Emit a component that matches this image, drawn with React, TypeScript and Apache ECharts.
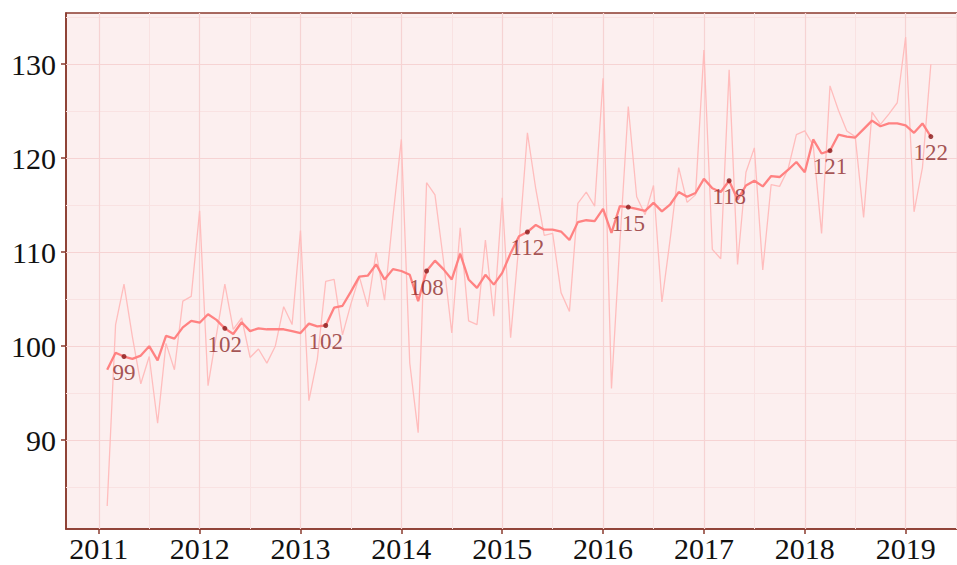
import React, { useEffect, useRef } from "react";
import * as echarts from "echarts";

// Monthly series, Feb 2011 .. Apr 2019
const START_YEAR = 2011;
const START_MONTH = 2;

const rawValues = [
  83.0, 102.3, 106.6, 101.0, 96.0, 98.9, 91.8, 100.3, 97.5, 104.8, 105.3, 114.4,
  95.8, 101.2, 106.6, 101.8, 103.0, 98.8, 99.7, 98.2, 100.0, 104.2, 102.3, 112.3,
  94.2, 98.6, 106.9, 107.1, 101.2, 104.5, 107.4, 104.2, 110.0, 104.9, 113.8, 122.0,
  98.2, 90.8, 117.4, 116.1, 109.2, 101.4, 112.6, 102.7, 102.3, 111.3, 103.2, 115.8,
  100.9, 111.0, 122.7, 116.7, 111.8, 112.0, 105.7, 103.7, 115.2, 116.4, 114.9, 128.5,
  95.5, 111.0, 125.5, 115.9, 114.0, 117.1, 104.7, 111.5, 119.0, 115.3, 116.1, 131.5,
  110.3, 109.3, 129.4, 108.7, 118.5, 121.1, 108.1, 117.2, 117.0, 118.8, 122.5, 122.9,
  121.4, 112.0, 127.7, 125.1, 122.9, 122.3, 113.7, 124.9, 123.6, 124.7, 125.9, 132.9,
  114.3, 119.0, 130.0,
];

const trendValues = [
  97.5, 99.3, 98.9, 98.65, 99.0, 100.0, 98.5, 101.1, 100.8, 102.0, 102.7, 102.5,
  103.4, 102.8, 101.9, 101.3, 102.55, 101.6, 101.9, 101.8, 101.8, 101.8, 101.6, 101.4,
  102.4, 102.1, 102.2, 104.1, 104.3, 105.8, 107.4, 107.5, 108.7, 107.1, 108.2, 108.0,
  107.6, 104.8, 108.0, 109.1, 108.2, 107.1, 109.85, 107.1, 106.2, 107.6, 106.55, 107.8,
  109.9, 111.7, 112.15, 112.9, 112.4, 112.4, 112.2, 111.3, 113.2, 113.4, 113.3, 114.6,
  112.05, 114.9, 114.8, 114.6, 114.4, 115.25, 114.35, 115.1, 116.4, 115.9, 116.3, 117.8,
  116.8, 116.4, 117.6, 115.6, 117.1, 117.6, 117.0, 118.1, 118.0, 118.75, 119.6, 118.5,
  122.0, 120.5, 120.8, 122.5, 122.3, 122.2, 123.1, 124.0, 123.4, 123.7, 123.7, 123.5,
  122.7, 123.7, 122.3,
];

const HIGHLIGHT_MONTH = 4; // April of each year is annotated
const yearTicks = [2011, 2012, 2013, 2014, 2015, 2016, 2017, 2018, 2019];
const yearMinor = [2011.5, 2012.5, 2013.5, 2014.5, 2015.5, 2016.5, 2017.5, 2018.5, 2019.5];
const valueTicks = [90, 100, 110, 120, 130];
const valueMinor = [85, 95, 105, 115, 125, 135];

const X_MIN = 2010.675;
const X_MAX = 2019.658;
const Y_MIN = 80.55;
const Y_MAX = 135.45;

const SERIF = "'Liberation Serif', 'Times New Roman', 'DejaVu Serif', serif";
const AXIS_COLOR = "#8A3A2E";
const MAJOR_GRID = "#F6D3D3";
const MINOR_GRID = "#F9E2E2";

const monthIndexToX = (i: number) => START_YEAR + (START_MONTH - 1 + i) / 12;
const monthOf = (i: number) => ((START_MONTH - 1 + i) % 12) + 1;

export default function App() {
  const ref = useRef<HTMLDivElement>(null);

  useEffect(() => {
    if (!ref.current) return;
    const chart = echarts.init(ref.current, undefined, { renderer: "svg" });

    const rawData = rawValues.map((v, i) => [monthIndexToX(i), v]);
    const trendData = trendValues.map((v, i) => [monthIndexToX(i), v]);
    const pointData = trendValues
      .map((v, i) => ({ i, v }))
      .filter((d) => monthOf(d.i) === HIGHLIGHT_MONTH)
      .map((d) => [monthIndexToX(d.i), d.v]);

    const line = (color: string, width: number) => ({ color, width, type: "solid" as const });
    const gridLines = [
      ...yearMinor.map((x) => ({ xAxis: x, lineStyle: line(MINOR_GRID, 1) })),
      ...valueMinor.map((y) => ({ yAxis: y, lineStyle: line(MINOR_GRID, 1) })),
      ...yearTicks.map((x) => ({ xAxis: x, lineStyle: line(MAJOR_GRID, 1.2) })),
      ...valueTicks.map((y) => ({ yAxis: y, lineStyle: line(MAJOR_GRID, 1.2) })),
    ];

    chart.setOption({
      animation: false,
      backgroundColor: "#FFFFFF",
      grid: {
        left: 66,
        right: 0,
        top: 13,
        bottom: 36,
        show: true,
        backgroundColor: "#FCEFEF",
        borderColor: AXIS_COLOR,
        borderWidth: 1.5,
      },
      xAxis: {
        type: "value",
        min: X_MIN,
        max: X_MAX,
        axisLine: { show: true, onZero: false, lineStyle: { color: AXIS_COLOR, width: 1.6 } },
        axisTick: {
          show: true,
          customValues: yearTicks,
          length: 5,
          lineStyle: { color: AXIS_COLOR, width: 1.5 },
        },
        axisLabel: {
          customValues: yearTicks,
          color: "#111111",
          fontFamily: SERIF,
          fontSize: 30,
          margin: 4,
          formatter: (v: number) => String(Math.round(v)),
        },
        splitLine: { show: false },
      },
      yAxis: {
        type: "value",
        min: Y_MIN,
        max: Y_MAX,
        axisLine: { show: true, onZero: false, lineStyle: { color: AXIS_COLOR, width: 1.6 } },
        axisTick: {
          show: true,
          customValues: valueTicks,
          length: 5,
          lineStyle: { color: AXIS_COLOR, width: 1.5 },
        },
        axisLabel: {
          customValues: valueTicks,
          color: "#111111",
          fontFamily: SERIF,
          fontSize: 30,
          margin: 10,
          formatter: (v: number) => String(Math.round(v)),
        },
        splitLine: { show: false },
      },
      series: [
        {
          name: "raw",
          type: "line",
          data: rawData,
          showSymbol: false,
          symbol: "none",
          z: 3,
          lineStyle: { color: "#FFBDBD", width: 1.3 },
          markLine: {
            silent: true,
            z: 1,
            symbol: ["none", "none"],
            label: { show: false },
            data: gridLines,
          },
        },
        {
          name: "trend",
          type: "line",
          data: trendData,
          showSymbol: false,
          symbol: "none",
          z: 4,
          lineStyle: { color: "#FF8282", width: 2.3 },
        },
        {
          name: "april",
          type: "scatter",
          data: pointData,
          symbolSize: 5,
          z: 5,
          itemStyle: { color: "#8B1A1A" },
          label: {
            show: true,
            position: "bottom",
            distance: 2,
            color: "#8E2A2A",
            fontFamily: SERIF,
            fontSize: 23,
            formatter: (p: any) => String(Math.round(p.value[1])),
          },
        },
      ],
    });

    return () => chart.dispose();
  }, []);

  return (
    <div
      style={{ position: "absolute", left: 0, top: 0, width: 957, height: 565, overflow: "hidden", background: "#fff" }}
    >
      <div ref={ref} style={{ width: 972, height: 565 }} />
    </div>
  );
}
